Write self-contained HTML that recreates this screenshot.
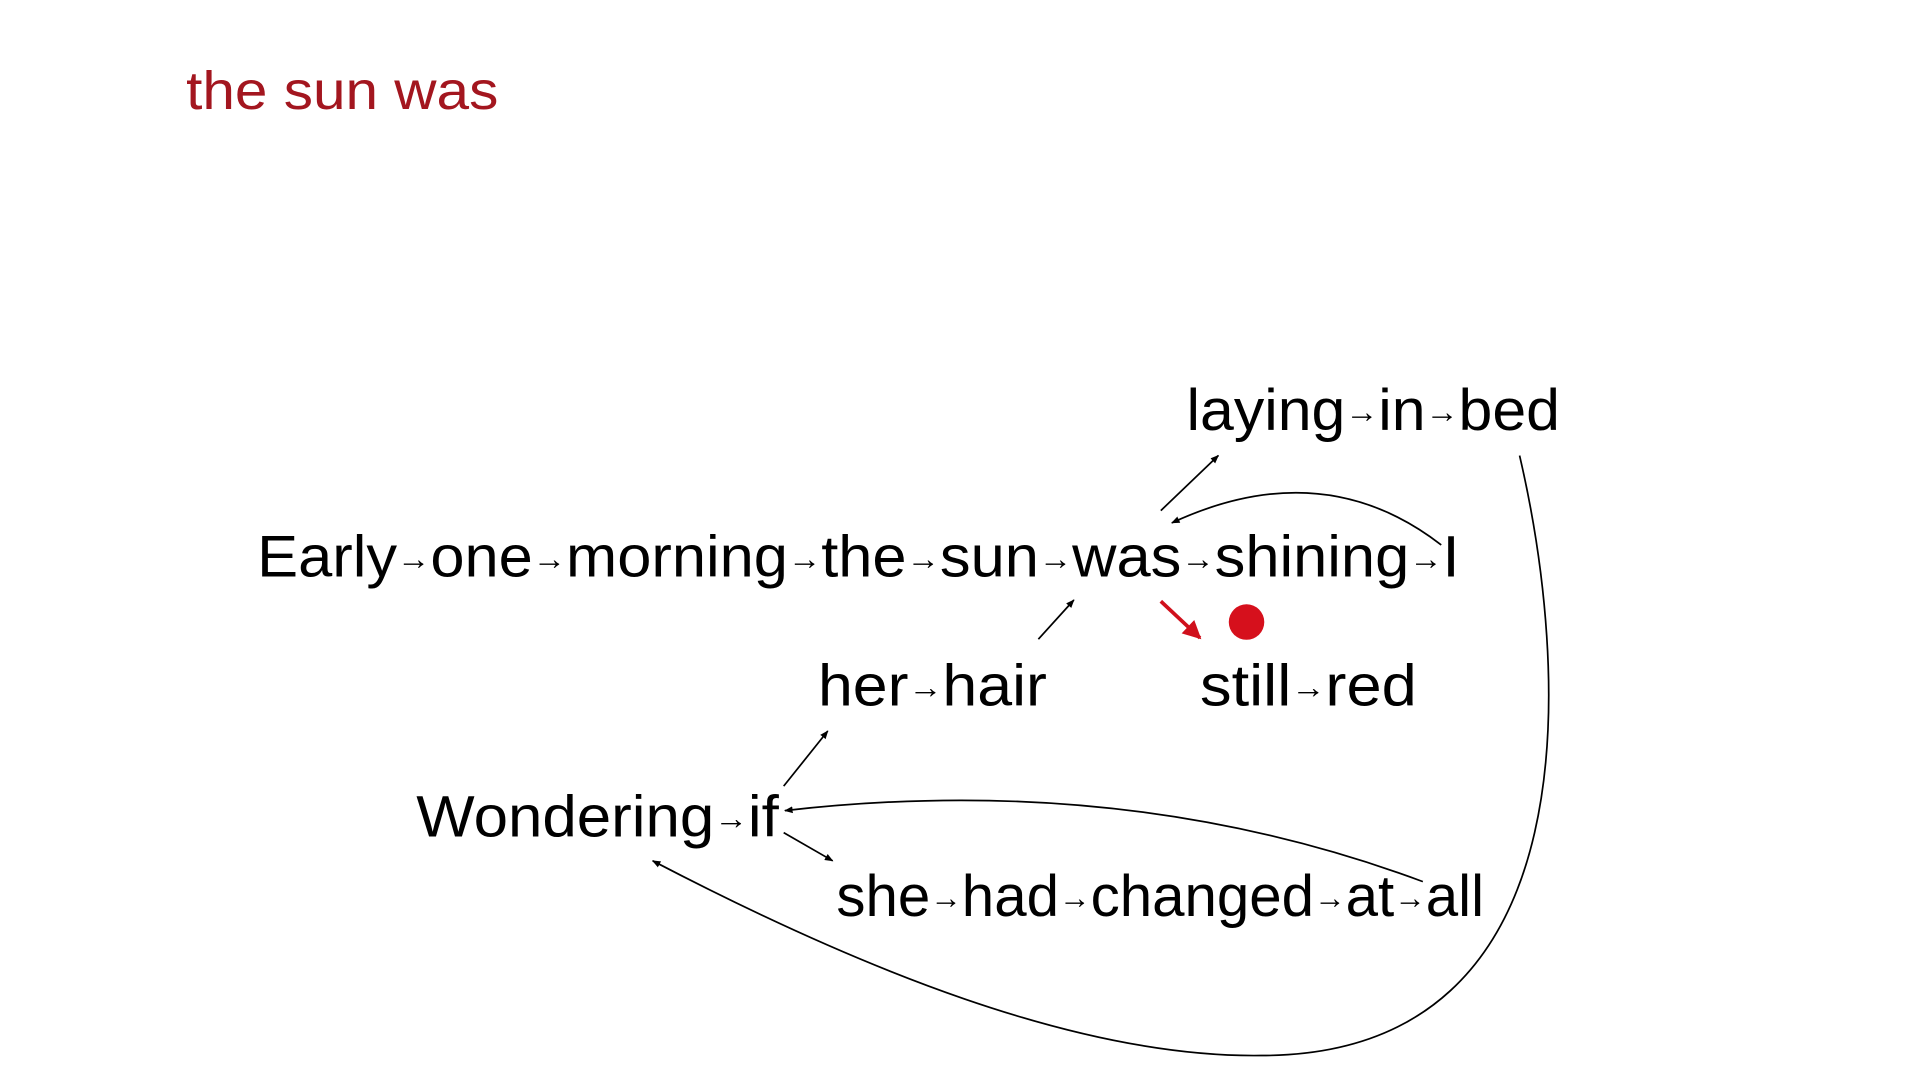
<!DOCTYPE html>
<html><head><meta charset="utf-8"><style>
html,body{margin:0;padding:0;background:#fff;width:1920px;height:1080px;overflow:hidden}
svg{display:block}
text{font-family:"Liberation Sans",sans-serif}
tspan.a{font-size:26px}
</style></head><body>
<svg width="1920" height="1080" viewBox="0 0 1568 882" xmlns="http://www.w3.org/2000/svg">
<defs>
<marker id="ah" viewBox="0 0 10 10" refX="9" refY="5" markerWidth="7" markerHeight="7" markerUnits="userSpaceOnUse" orient="auto"><path d="M0,1 L10,5 L0,9 z" fill="#000"/></marker>
<marker id="ahr" viewBox="0 0 10 10" refX="9" refY="5" markerWidth="5" markerHeight="5" orient="auto"><path d="M0,0 L10,5 L0,10 z" fill="#d0101c"/></marker>
</defs>
<text x="152" y="89" font-size="44" fill="#a3161f" textLength="255" lengthAdjust="spacingAndGlyphs">the sun was</text>
<g font-size="48" fill="#000">
<text x="210" y="471" textLength="982" lengthAdjust="spacingAndGlyphs">Early<tspan class="a" dy="-6">→</tspan><tspan dy="6">one</tspan><tspan class="a" dy="-6">→</tspan><tspan dy="6">morning</tspan><tspan class="a" dy="-6">→</tspan><tspan dy="6">the</tspan><tspan class="a" dy="-6">→</tspan><tspan dy="6">sun</tspan><tspan class="a" dy="-6">→</tspan><tspan dy="6">was</tspan><tspan class="a" dy="-6">→</tspan><tspan dy="6">shining</tspan><tspan class="a" dy="-6">→</tspan><tspan dy="6">I</tspan></text>
<text x="969" y="351" textLength="305" lengthAdjust="spacingAndGlyphs">laying<tspan class="a" dy="-6">→</tspan><tspan dy="6">in</tspan><tspan class="a" dy="-6">→</tspan><tspan dy="6">bed</tspan></text>
<text x="668" y="576" textLength="187" lengthAdjust="spacingAndGlyphs">her<tspan class="a" dy="-6">→</tspan><tspan dy="6">hair</tspan></text>
<text x="980" y="576" textLength="177" lengthAdjust="spacingAndGlyphs">still<tspan class="a" dy="-6">→</tspan><tspan dy="6">red</tspan></text>
<text x="340" y="683" textLength="296" lengthAdjust="spacingAndGlyphs">Wondering<tspan class="a" dy="-6">→</tspan><tspan dy="6">if</tspan></text>
<text x="683" y="748" textLength="529" lengthAdjust="spacingAndGlyphs">she<tspan class="a" dy="-6">→</tspan><tspan dy="6">had</tspan><tspan class="a" dy="-6">→</tspan><tspan dy="6">changed</tspan><tspan class="a" dy="-6">→</tspan><tspan dy="6">at</tspan><tspan class="a" dy="-6">→</tspan><tspan dy="6">all</tspan></text>
</g>
<g fill="none" stroke="#000" stroke-width="1.4">
<line x1="948" y1="417" x2="995" y2="372" marker-end="url(#ah)"/>
<path d="M1177,445 Q1080,370 957,427" marker-end="url(#ah)"/>
<path d="M1241,372 C1280,540 1305,862 1030,862 C880,864 700,790 533,703" marker-end="url(#ah)"/>
<line x1="848" y1="522" x2="877" y2="490" marker-end="url(#ah)"/>
<line x1="640" y1="642" x2="676" y2="597" marker-end="url(#ah)"/>
<line x1="640" y1="680" x2="680" y2="703" marker-end="url(#ah)"/>
<path d="M1162,720 Q920,630 641,662" marker-end="url(#ah)"/>
</g>
<line x1="948" y1="491" x2="980" y2="521" stroke="#d0101c" stroke-width="3" marker-end="url(#ahr)"/>
<circle cx="1018" cy="508" r="14.5" fill="#d6101c"/>
</svg>
</body></html>
